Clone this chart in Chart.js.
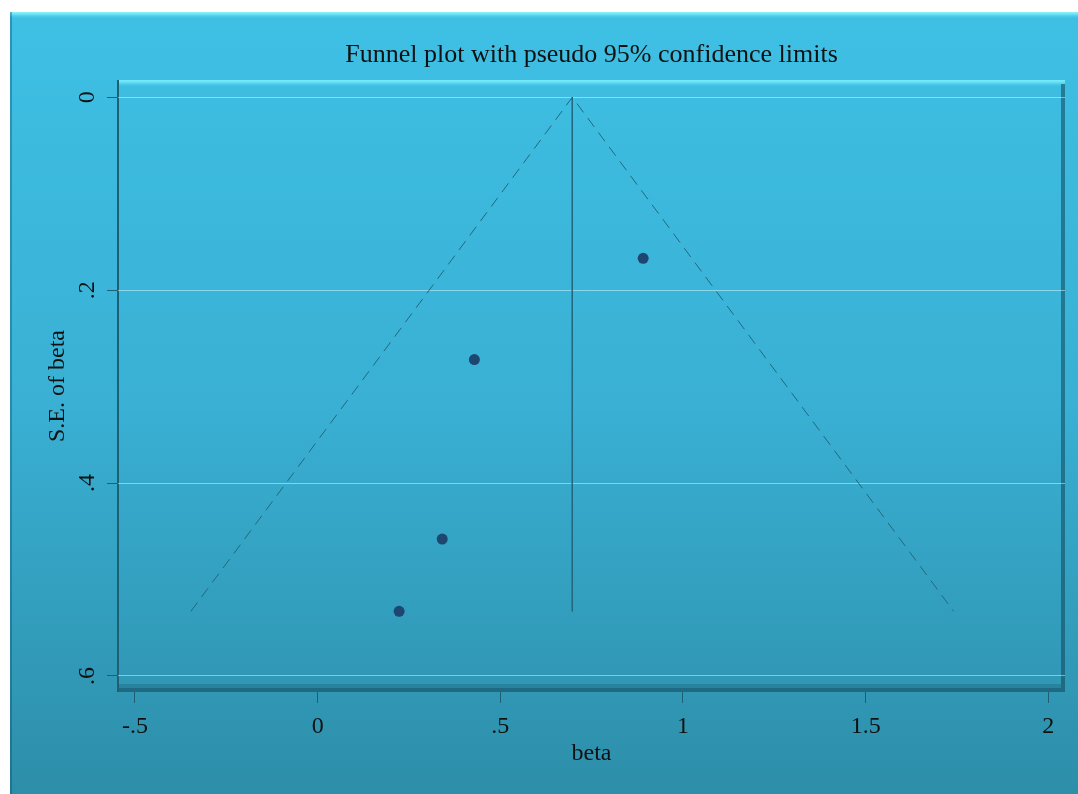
<!DOCTYPE html>
<html>
<head>
<meta charset="utf-8">
<title>Funnel plot</title>
<script src="https://cdn.jsdelivr.net/npm/chart.js@4/dist/chart.umd.min.js"></script>
<style>
  html, body { margin: 0; padding: 0; background: #fff; }
  canvas { display: block; }
</style>
</head>
<body>
<canvas id="funnelCanvas" width="1078" height="794"></canvas>
<script>
// studies
const betas = [0.891, 0.429, 0.341, 0.223];
const seBetas = [0.167, 0.272, 0.458, 0.533];

// pooled estimate line and pseudo 95% limits
const pooledX = [0.697, 0.697];
const pooledY = [0, 0.533];
const limitX = [-0.347, 0.697, 1.741];
const limitY = [0.533, 0, 0.533];

// axes
const xTicks = [-0.5, 0, 0.5, 1, 1.5, 2];
const yTicks = [0, 0.2, 0.4, 0.6];
const xRange = [-0.5465, 2.0457];
const yRange = [-0.0179, 0.6166];

const titleText = "Funnel plot with pseudo 95% confidence limits";
const serif = "'Liberation Serif', 'DejaVu Serif', serif";

function toPoints(xs, ys) {
  return xs.map((x, i) => ({ x: x, y: ys[i] }));
}

// stata style labels: .5 instead of 0.5
function stataLabel(v) {
  let s = String(+Number(v).toFixed(2));
  return s.replace(/^0\./, ".").replace(/^-0\./, "-.");
}

// blue panels behind everything
const panelPlugin = {
  id: "panels",
  beforeDraw(chart) {
    const ctx = chart.ctx;
    const W = chart.width, H = chart.height;
    const a = chart.chartArea;
    ctx.save();
    ctx.fillStyle = "#ffffff";
    ctx.fillRect(0, 0, W, H);

    // outer panel
    const g = ctx.createLinearGradient(0, 12, 0, H);
    g.addColorStop(0, "#3ec0e4");
    g.addColorStop(0.5, "#39b0d4");
    g.addColorStop(1, "#2d8ea9");
    ctx.fillStyle = g;
    ctx.fillRect(10, 12, W - 10, H - 12);
    const tb = ctx.createLinearGradient(0, 12, 0, 19);
    tb.addColorStop(0, "#8af4fc");
    tb.addColorStop(0.3, "#6ee3f6");
    tb.addColorStop(1, "rgba(62,192,228,0)");
    ctx.fillStyle = tb;
    ctx.fillRect(10, 12, W - 10, 7);
    ctx.fillStyle = "rgba(10,70,95,0.35)";
    ctx.fillRect(10, 12, 2, H - 12);

    // plot panel
    const pt = ctx.createLinearGradient(0, a.top, 0, a.top + 7);
    pt.addColorStop(0, "#7aeefb");
    pt.addColorStop(0.4, "#5fdcf3");
    pt.addColorStop(1, "rgba(62,192,228,0)");
    ctx.fillStyle = pt;
    ctx.fillRect(a.left, a.top, a.right - a.left, 7);
    ctx.fillStyle = "rgba(15,70,90,0.55)";
    ctx.fillRect(a.right - 4, a.top + 4, 4, a.bottom - a.top - 4);
    ctx.fillRect(a.left, a.bottom - 4, a.right - a.left - 4, 4);
    ctx.fillStyle = "rgba(15,70,90,0.25)";
    ctx.fillRect(a.left, a.bottom - 8, a.right - a.left - 4, 4);
    ctx.fillStyle = "#1e5f72";
    ctx.fillRect(a.left - 1, a.top, 2, a.bottom - a.top);
    ctx.restore();
  }
};

const ctx = document.getElementById("funnelCanvas").getContext("2d");
const lineCol = "#23687e";
const tickCol = "#1f5f73";

new Chart(ctx, {
  type: "scatter",
  data: {
    datasets: [
      {
        label: "limits",
        data: toPoints(limitX, limitY),
        showLine: true,
        borderColor: lineCol,
        borderWidth: 1,
        borderDash: [11, 7],
        pointRadius: 0
      },
      {
        label: "pooled",
        data: toPoints(pooledX, pooledY),
        showLine: true,
        borderColor: lineCol,
        borderWidth: 1,
        pointRadius: 0
      },
      {
        label: "studies",
        data: toPoints(betas, seBetas),
        pointRadius: 5.5,
        pointBackgroundColor: "#1d4670",
        pointBorderWidth: 0
      }
    ]
  },
  options: {
    responsive: false,
    animation: false,
    layout: { padding: { left: 0, right: 13, top: 0, bottom: 0 } },
    plugins: {
      legend: { display: false },
      tooltip: { enabled: false },
      title: {
        display: true,
        fullSize: false,
        text: titleText,
        color: "#111",
        font: { family: serif, size: 26, weight: "normal" },
        padding: { top: 40, bottom: 8.8 }
      }
    },
    scales: {
      x: {
        type: "linear",
        min: xRange[0],
        max: xRange[1],
        afterFit: (s) => { s.height = 102; },
        afterBuildTicks: (s) => { s.ticks = xTicks.map(v => ({ value: v })); },
        ticks: {
          color: "#111",
          font: { family: serif, size: 24 },
          padding: 9,
          maxRotation: 0,
          callback: stataLabel
        },
        grid: { drawOnChartArea: false, tickLength: 11, tickColor: tickCol },
        border: { display: false },
        title: {
          display: true,
          text: "beta",
          color: "#111",
          font: { family: serif, size: 24 },
          padding: { top: 0, bottom: 26 }
        }
      },
      y: {
        type: "linear",
        reverse: true,
        min: yRange[0],
        max: yRange[1],
        afterFit: (s) => { s.width = 118; },
        afterBuildTicks: (s) => { s.ticks = yTicks.map(v => ({ value: v })); },
        ticks: {
          color: "#111",
          font: { family: serif, size: 24 },
          padding: 10,
          minRotation: 90,
          maxRotation: 90,
          crossAlign: "center",
          callback: stataLabel
        },
        grid: {
          color: "rgba(220,250,255,0.5)",
          lineWidth: 1,
          tickLength: 11,
          tickColor: tickCol
        },
        border: { display: false },
        title: {
          display: true,
          text: "S.E. of beta",
          color: "#111",
          font: { family: serif, size: 24 },
          padding: { top: 43, bottom: 0 }
        }
      }
    }
  },
  plugins: [panelPlugin]
});
</script>
</body>
</html>
